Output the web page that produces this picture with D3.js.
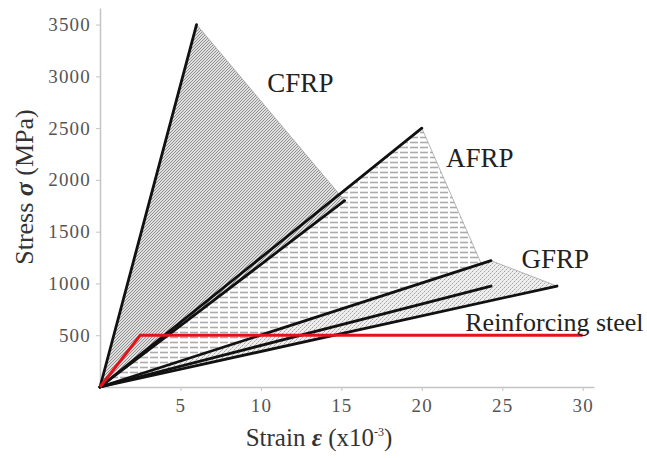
<!DOCTYPE html>
<html>
<head>
<meta charset="utf-8">
<script src="https://cdn.jsdelivr.net/npm/d3@7"></script>
<style>
  body { margin: 0; background: #fff; }
  svg { display: block; }
</style>
</head>
<body>
<svg id="chart" width="647" height="458"></svg>
<script>
// stress-strain envelopes
var fiberNames   = ["CFRP", "AFRP", "GFRP"];
var upperStrain  = [6, 20, 24.3];
var upperStress  = [3500, 2500, 1220];
var lowerStrain  = [15.2, 24.3, 28.4];
var lowerStress  = [1800, 975, 975];
var labelStrain  = [10.4, 21.5, 26.2];
var labelStress  = [2845, 2120, 1150];

var steelStrain  = [0, 2.5, 30];
var steelStress  = [0, 500, 500];
var steelLabel   = "Reinforcing steel";

var xTicks = [5, 10, 15, 20, 25, 30];
var yTicks = [500, 1000, 1500, 2000, 2500, 3000, 3500];

var svg = d3.select("#chart");

var x = d3.scaleLinear().domain([0, 30.7]).range([100, 594]);
var y = d3.scaleLinear().domain([0, 3660]).range([387, 8]);

var serif = "Liberation Serif, Times New Roman, serif";

// hatch patterns
var defs = svg.append("defs");

var cfrpPat = defs.append("pattern")
  .attr("id", "hatch-cfrp").attr("patternUnits", "userSpaceOnUse")
  .attr("width", 3).attr("height", 3);
cfrpPat.append("rect").attr("width", 3).attr("height", 3).attr("fill", "#e0e0e0");
cfrpPat.append("path").attr("d", "M-1,1 L1,-1 M0,3 L3,0 M2,4 L4,2")
  .attr("stroke", "#7a7a7a").attr("stroke-width", 0.8);

var afrpPat = defs.append("pattern")
  .attr("id", "hatch-afrp").attr("patternUnits", "userSpaceOnUse")
  .attr("width", 10).attr("height", 5);
afrpPat.append("rect").attr("width", 10).attr("height", 5).attr("fill", "#fff");
afrpPat.append("line").attr("x1", 0).attr("x2", 8).attr("y1", 2.5).attr("y2", 2.5)
  .attr("stroke", "#ababab").attr("stroke-width", 1.6);

var gfrpPat = defs.append("pattern")
  .attr("id", "hatch-gfrp").attr("patternUnits", "userSpaceOnUse")
  .attr("width", 4).attr("height", 4);
gfrpPat.append("rect").attr("width", 4).attr("height", 4).attr("fill", "#efefef");
gfrpPat.append("path").attr("d", "M0,4 L1.5,2.5 M2,2 L3.5,0.5")
  .attr("stroke", "#8e8e8e").attr("stroke-width", 0.8);

var fills = ["url(#hatch-cfrp)", "url(#hatch-afrp)", "url(#hatch-gfrp)"];

// envelopes: origin -> upper end -> lower end
var envelope = function(i){
  return [[0, 0], [upperStrain[i], upperStress[i]], [lowerStrain[i], lowerStress[i]]];
};

var toPx = d3.line().x(function(d){ return x(d[0]); }).y(function(d){ return y(d[1]); });

var drawOrder = [1, 2, 0];

svg.append("g").selectAll("path")
  .data(drawOrder)
  .enter()
  .append("path")
  .attr("d", function(i){ return toPx(envelope(i)) + "Z"; })
  .attr("fill", function(i){ return fills[i]; })
  .attr("stroke", "#9a9a9a")
  .attr("stroke-width", 0.7);

// axes
var xAxis = d3.axisBottom(x).tickValues(xTicks).tickFormat(d3.format("d"))
  .tickSize(4).tickPadding(8).tickSizeOuter(0);
var yAxis = d3.axisLeft(y).tickValues(yTicks).tickFormat(d3.format("d"))
  .tickSize(4).tickPadding(5).tickSizeOuter(0);

var gx = svg.append("g").attr("transform", "translate(0," + y(0) + ")").call(xAxis);
var gy = svg.append("g").attr("transform", "translate(" + x(0) + ",0)").call(yAxis);

[gx, gy].forEach(function(g){
  g.attr("font-family", serif).attr("font-size", 19);
  g.select(".domain").attr("stroke", "#c4c4c4").attr("stroke-width", 1.5);
  g.selectAll(".tick line").attr("stroke", "#c4c4c4");
  g.selectAll(".tick text")
    .attr("fill", "#555")
    .attr("letter-spacing", "1.2");
});

// fiber lines (black)
var lineSegs = [];
fiberNames.forEach(function(n, i){
  lineSegs.push([[0, 0], [upperStrain[i], upperStress[i]]]);
  lineSegs.push([[0, 0], [lowerStrain[i], lowerStress[i]]]);
});

svg.append("g").selectAll("path")
  .data(lineSegs)
  .enter()
  .append("path")
  .attr("d", toPx)
  .attr("fill", "none")
  .attr("stroke", "#111")
  .attr("stroke-width", 2.8)
  .attr("stroke-linecap", "round");

// steel
svg.append("path")
  .datum(steelStrain.map(function(s, i){ return [s, steelStress[i]]; }))
  .attr("d", toPx)
  .attr("fill", "none")
  .attr("stroke", "#e3121b")
  .attr("stroke-width", 3)
  .attr("stroke-linejoin", "miter");

// labels
svg.append("g").selectAll("text")
  .data(fiberNames)
  .enter()
  .append("text")
  .attr("x", function(d, i){ return x(labelStrain[i]); })
  .attr("y", function(d, i){ return y(labelStress[i]); })
  .attr("fill", "#222")
  .attr("font-family", serif)
  .attr("font-size", 27)
  .text(function(d){ return d; });

svg.append("text")
  .attr("x", x(22.7)).attr("y", y(540))
  .attr("fill", "#222")
  .attr("font-family", serif)
  .attr("font-size", 26)
  .text(steelLabel);

// axis titles
var xt = svg.append("text")
  .attr("x", 319).attr("y", 446)
  .attr("text-anchor", "middle")
  .attr("fill", "#333")
  .attr("font-family", serif)
  .attr("font-size", 25);
xt.append("tspan").text("Strain ");
xt.append("tspan").attr("font-weight", "bold").attr("font-style", "italic").text("\u03b5");
xt.append("tspan").text(" (x10");
xt.append("tspan").attr("dy", -10).attr("font-size", 12).text("-3");
xt.append("tspan").attr("dy", 10).text(")");

var yt = svg.append("text")
  .attr("transform", "translate(33,187) rotate(-90)")
  .attr("text-anchor", "middle")
  .attr("fill", "#333")
  .attr("font-family", serif)
  .attr("font-size", 26);
yt.append("tspan").text("Stress ");
yt.append("tspan").attr("font-weight", "bold").attr("font-style", "italic").text("\u03c3");
yt.append("tspan").text(" (MPa)");
</script>
</body>
</html>
